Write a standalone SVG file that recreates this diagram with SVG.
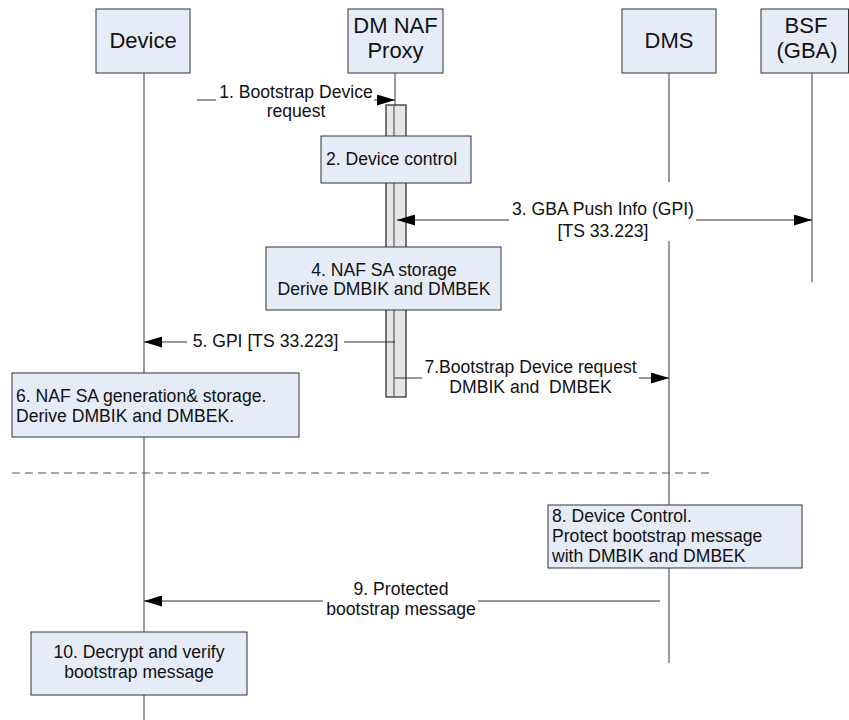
<svg xmlns="http://www.w3.org/2000/svg" width="849" height="720" viewBox="0 0 849 720">
<defs>
<style>
.hdr{fill:#e6ecf7;stroke:#333;stroke-width:1}
.box{fill:#e6ecf7;stroke:#333;stroke-width:1}
.life{stroke:#666;stroke-width:1.3;fill:none}
.msg{stroke:#333;stroke-width:1;fill:none}
.t{font-family:"Liberation Sans",Arial,sans-serif;font-size:17.6px;fill:#111}
.h{font-family:"Liberation Sans",Arial,sans-serif;font-size:22px;fill:#111}
.c{text-anchor:middle}
.bg{fill:#fff}
</style>
<marker id="ah" viewBox="0 0 18 11" refX="18" refY="5.5" markerWidth="18" markerHeight="11" markerUnits="userSpaceOnUse" orient="auto-start-reverse">
<path d="M0,0 L18,5.5 L0,11 Z" fill="#000"/>
</marker>
</defs>
<rect width="849" height="720" fill="#fff"/>

<g id="lifelines">
<line class="life" x1="144" y1="73" x2="144" y2="720"/>
<line class="life" x1="395" y1="73" x2="395" y2="105"/>
<line class="life" x1="669" y1="73" x2="669" y2="663"/>
<line class="life" x1="812" y1="73" x2="812" y2="282"/>
</g>

<g id="activation">
<rect x="386" y="105" width="20" height="292" fill="#e6e6e6" stroke="#222" stroke-width="1.2"/>
<line class="life" x1="394" y1="105" x2="394" y2="397"/>
</g>

<g id="header-device">
<rect class="hdr" x="96" y="9" width="94" height="64"/>
<text class="h c" x="143" y="48">Device</text>
</g>
<g id="header-proxy">
<rect class="hdr" x="348" y="9" width="95" height="64"/>
<text class="h c" x="395.5" y="33">DM NAF</text>
<text class="h c" x="395.5" y="58">Proxy</text>
</g>
<g id="header-dms">
<rect class="hdr" x="622" y="9" width="94" height="64"/>
<text class="h c" x="669" y="48">DMS</text>
</g>
<g id="header-bsf">
<rect class="hdr" x="761" y="9" width="87.5" height="64"/>
<text class="h c" x="806" y="33">BSF</text>
<text class="h c" x="807" y="58">(GBA)</text>
</g>

<g id="connectors">
<line class="msg" x1="197" y1="100" x2="395" y2="100" marker-end="url(#ah)"/>
<line class="msg" x1="397" y1="220" x2="812" y2="220" marker-start="url(#ah)" marker-end="url(#ah)"/>
<line class="msg" x1="395" y1="342" x2="144" y2="342" marker-end="url(#ah)"/>
<line class="msg" x1="394" y1="378" x2="669" y2="378" marker-end="url(#ah)"/>
<line class="msg" x1="660" y1="601" x2="144" y2="601" marker-end="url(#ah)"/>
<line x1="12" y1="473" x2="710" y2="473" stroke="#555" stroke-width="1.2" stroke-dasharray="8,5"/>
</g>

<g id="label-1">
<rect class="bg" x="216" y="84" width="158" height="38"/>
<text class="t c" x="296" y="98">1. Bootstrap Device</text>
<text class="t c" x="296" y="117">request</text>
</g>
<g id="label-3">
<rect class="bg" x="509" y="182" width="187" height="59"/>
<text class="t c" x="603" y="215">3. GBA Push Info (GPI)</text>
<text class="t c" x="603" y="237">[TS 33.223]</text>
</g>
<g id="label-5">
<rect class="bg" x="187" y="330" width="157" height="22"/>
<text class="t c" x="265.5" y="347">5. GPI [TS 33.223]</text>
</g>
<g id="label-7">
<rect class="bg" x="422" y="358" width="217" height="40"/>
<text class="t c" x="530.5" y="373">7.Bootstrap Device request</text>
<text class="t c" x="530.5" y="393">DMBIK and&#160; DMBEK</text>
</g>
<g id="label-9">
<rect class="bg" x="323" y="580" width="155" height="40"/>
<text class="t c" x="401" y="595">9. Protected</text>
<text class="t c" x="401" y="615">bootstrap message</text>
</g>

<g id="step-2">
<rect class="box" x="321" y="136" width="150" height="47"/>
<text class="t" x="326" y="165">2. Device control</text>
</g>
<g id="step-4">
<rect class="box" x="266" y="247" width="235" height="63"/>
<text class="t c" x="384" y="276">4. NAF SA storage</text>
<text class="t c" x="384" y="295">Derive DMBIK and DMBEK</text>
</g>
<g id="step-6">
<rect class="box" x="12" y="373" width="287" height="64"/>
<text class="t" x="16" y="402">6. NAF SA generation&amp; storage.</text>
<text class="t" x="16" y="422">Derive DMBIK and DMBEK.</text>
</g>
<g id="step-8">
<rect class="box" x="548" y="505" width="254" height="63"/>
<text class="t" x="552" y="522">8. Device Control.</text>
<text class="t" x="552" y="542">Protect bootstrap message</text>
<text class="t" x="552" y="562">with DMBIK and DMBEK</text>
</g>
<g id="step-10">
<rect class="box" x="31" y="632" width="216" height="63"/>
<text class="t c" x="139" y="658">10. Decrypt and verify</text>
<text class="t c" x="139" y="678">bootstrap message</text>
</g>
</svg>
